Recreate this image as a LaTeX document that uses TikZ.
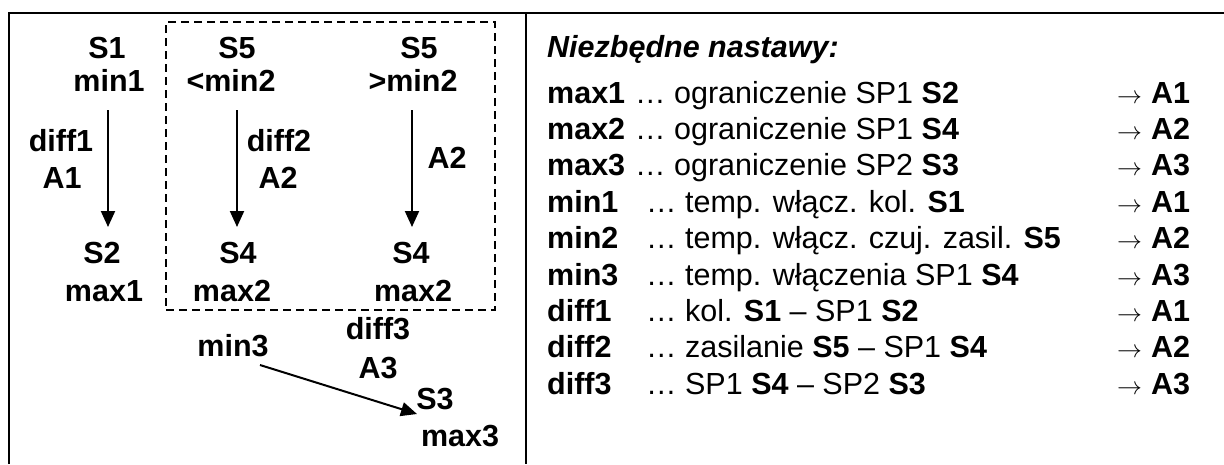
\documentclass[tikz,border=0pt]{standalone}
\usepackage{fontspec}
\setmainfont{Liberation Sans}
\usetikzlibrary{arrows.meta}
\begin{document}
\begin{tikzpicture}[x=1pt,y=-1pt,
  lbl/.style={font=\fontsize{30.5}{34}\selectfont\bfseries,inner sep=0pt,anchor=base},
  rowtxt/.style={font=\fontsize{30.5}{34}\selectfont,inner sep=0pt,anchor=base west},
  frame/.style={line width=2pt},
  grp/.style={line width=1.5pt,dash pattern=on 8pt off 5pt},
  flow/.style={line width=2pt,-{Triangle[width=14pt,length=16pt]}}]
\useasboundingbox (0,0) rectangle (1224,464);
% frame
\coordinate (tl) at (9,13);
\coordinate (tr) at (1224,13);
\coordinate (bl) at (9,464);
\coordinate (dt) at (526,13);
\coordinate (db) at (526,464);
\draw[frame] (bl) -- (tl) -- (tr);
\draw[frame] (dt) -- (db);
% dashed group
\node[draw,grp,minimum width=329pt,minimum height=288pt,inner sep=0pt] (group) at (330.5,166) {};
% left column
\node[lbl] (s1) at (107,58) {S1};
\node[lbl] (min1) at (109,91) {min1};
\node[lbl] (diff1) at (61,151) {diff1};
\node[lbl] (a1) at (62,188) {A1};
\node[lbl] (s2) at (102,263) {S2};
\node[lbl] (max1) at (104,301) {max1};
\coordinate (c1s) at (108,110);
\coordinate (c1e) at (108,227);
\draw[flow] (c1s) -- (c1e);
% middle column
\node[lbl] (s5a) at (237,58) {S5};
\node[lbl] (lmin2) at (231,91) {<min2};
\node[lbl] (diff2) at (279,151) {diff2};
\node[lbl] (a2a) at (278,188) {A2};
\node[lbl] (s4a) at (238,263) {S4};
\node[lbl] (max2a) at (232,301) {max2};
\coordinate (c2s) at (237,110);
\coordinate (c2e) at (237,227);
\draw[flow] (c2s) -- (c2e);
% right column
\node[lbl] (s5b) at (419,58) {S5};
\node[lbl] (gmin2) at (413,91) {>min2};
\node[lbl] (a2b) at (447,168) {A2};
\node[lbl] (s4b) at (411,263) {S4};
\node[lbl] (max2b) at (413,301) {max2};
\coordinate (c3s) at (412,110);
\coordinate (c3e) at (412,227);
\draw[flow] (c3s) -- (c3e);
% bottom
\node[lbl] (min3) at (233,356) {min3};
\node[lbl] (diff3) at (378,339) {diff3};
\node[lbl] (a3) at (378,378) {A3};
\node[lbl] (s3) at (435,409) {S3};
\node[lbl] (max3) at (460,446) {max3};
\coordinate (c4s) at (260,365);
\coordinate (c4e) at (417,414);
\draw[flow] (c4s) -- (c4e);
% right panel
\node[rowtxt,font=\fontsize{30.5}{34}\selectfont\bfseries\itshape] (title) at (547,57) {Niezbędne nastawy:};
\foreach \i/\k/\dx/\t/\a in {
  1/max1/635/{ograniczenie SP1 \textbf{S2}}/A1,
  2/max2/635/{ograniczenie SP1 \textbf{S4}}/A2,
  3/max3/635/{ograniczenie SP2 \textbf{S3}}/A3,
  4/min1/646/{temp. włącz. kol. \textbf{S1}}/A1,
  5/min2/646/{temp. włącz. czuj. zasil. \textbf{S5}}/A2,
  6/min3/646/{temp. włączenia SP1 \textbf{S4}}/A3,
  7/diff1/646/{kol. \textbf{S1} – SP1 \textbf{S2}}/A1,
  8/diff2/646/{zasilanie \textbf{S5} – SP1 \textbf{S4}}/A2,
  9/diff3/646/{SP1 \textbf{S4} – SP2 \textbf{S3}}/A3}{
  \pgfmathsetmacro{\yy}{103+(\i-1)*36.4}
  \node[rowtxt,font=\fontsize{30.5}{34}\selectfont\bfseries] (key\i) at (547,\yy) {\k};
  \node[rowtxt] (txt\i) at (\dx,\yy) {…\ \t};
  \node[rowtxt] (res\i) at (1117,\yy) {{\fontsize{24}{28}\selectfont$\rightarrow$}\hspace{9pt}\textbf{\a}};
}
\end{tikzpicture}
\end{document}
